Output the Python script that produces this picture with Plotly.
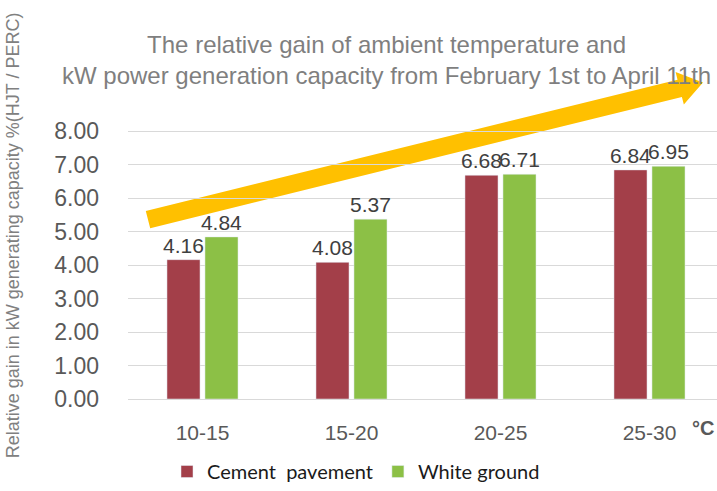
import math
import plotly.graph_objects as go

# Temperature bins (°C) and relative gain values (%)
temp_bins = ["10-15", "15-20", "20-25", "25-30"]
cement_pavement = [4.16, 4.08, 6.68, 6.84]
white_ground = [4.84, 5.37, 6.71, 6.95]
y_ticks = [0, 1, 2, 3, 4, 5, 6, 7, 8]
y_tick_text = ["%.2f" % v for v in y_ticks]

W, H = 717, 491
ML, MR, MT, MB = 128, 0, 121, 88
PW, PH = W - ML - MR, H - MT - MB

GREY = "#595959"
FONT = "Liberation Sans, Arial, sans-serif"


def px(x, y):
    """Pixel position -> paper coordinates."""
    return (x - ML) / PW, (H - MB - y) / PH


fig = go.Figure()
fig.add_trace(go.Bar(
    x=temp_bins, y=cement_pavement, name="Cement  pavement",
    marker_color="#A33F49",
    text=["%.2f" % v for v in cement_pavement], textposition="outside",
    constraintext="none",
    textfont=dict(size=21, color="#404040", family=FONT), cliponaxis=False,
))
fig.add_trace(go.Bar(
    x=temp_bins, y=white_ground, name="White ground",
    marker_color="#8CC046",
    text=["%.2f" % v for v in white_ground], textposition="outside",
    constraintext="none",
    textfont=dict(size=21, color="#404040", family=FONT), cliponaxis=False,
))

# Upward trend arrow drawn behind the labels
tail = (148, 221)
tip = (703, 82)
dx, dy = tip[0] - tail[0], tip[1] - tail[1]
L = math.hypot(dx, dy)
ux, uy = dx / L, dy / L
nx, ny = -uy, ux
hw, head_len, head_hw = 9, 24, 17
bx, by = tip[0] - ux * head_len, tip[1] - uy * head_len
pts = [
    (tail[0] + nx * hw, tail[1] + ny * hw),
    (bx + nx * hw, by + ny * hw),
    (bx + nx * head_hw, by + ny * head_hw),
    tip,
    (bx - nx * head_hw, by - ny * head_hw),
    (bx - nx * hw, by - ny * hw),
    (tail[0] - nx * hw, tail[1] - ny * hw),
]
path = "M " + " L ".join("%.4f,%.4f" % px(x, y) for x, y in pts) + " Z"
fig.add_shape(type="path", path=path, xref="paper", yref="paper",
              fillcolor="#FFC000", line=dict(width=0), layer="below")

# Title
tx, ty = px(386, 59)
fig.add_annotation(
    text="The relative gain of ambient temperature and<br>kW power generation capacity from February 1st to April 11th",
    x=tx, y=ty, xref="paper", yref="paper", showarrow=False,
    xanchor="center", yanchor="middle",
    font=dict(size=24, color="#7F7F7F", family=FONT),
)

# Y-axis title
ax_, ay_ = px(13, 237)
fig.add_annotation(
    text="Relative gain in kW generating capacity %(HJT / PERC)",
    x=ax_, y=ay_, xref="paper", yref="paper", showarrow=False,
    textangle=-90, xanchor="center", yanchor="middle",
    font=dict(size=18, color="#808080", family=FONT),
)

# Unit label
cx, cy = px(690, 432)
fig.add_annotation(
    text="<b>°C</b>", x=cx, y=cy, xref="paper", yref="paper", showarrow=False,
    xanchor="left", yanchor="middle",
    font=dict(size=20, color=GREY, family=FONT),
)

fig.update_layout(
    width=W, height=H,
    margin=dict(l=ML, r=MR, t=MT, b=MB),
    paper_bgcolor="white", plot_bgcolor="white",
    barmode="group", bargap=0.49, bargroupgap=0.13,
    showlegend=True,
    legend=dict(orientation="h", x=px(356, 0)[0], xanchor="center", y=px(0, 477)[1],
                yanchor="middle", font=dict(size=20, color="#1a1a1a", family="Lato"),
                itemwidth=30),
    xaxis=dict(range=[-0.5, PW / 149 - 0.5], showgrid=False, showline=False,
               ticks="", ticklabelstandoff=19,
               tickfont=dict(size=21, color=GREY, family=FONT)),
    yaxis=dict(range=[0, 8.3], tickvals=y_ticks, ticktext=y_tick_text,
               showgrid=True, gridcolor="#D9D9D9", gridwidth=1,
               zeroline=True, zerolinecolor="#D9D9D9", zerolinewidth=1,
               showline=False, ticks="", ticklabelstandoff=28,
               tickfont=dict(size=23, color=GREY, family=FONT)),
)

fig.write_html("out.html")
